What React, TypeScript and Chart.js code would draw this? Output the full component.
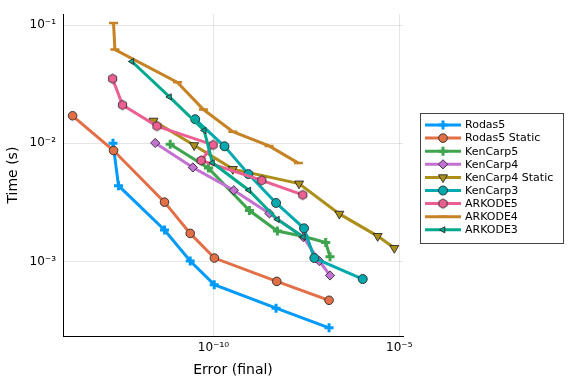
import React, { useEffect, useRef } from "react";
import { Chart, registerables } from "chart.js";
import { drawPoint } from "chart.js/helpers";

Chart.register(...registerables);

const seriesNames = [
  "Rodas5",
  "Rodas5 Static",
  "KenCarp5",
  "KenCarp4",
  "KenCarp4 Static",
  "KenCarp3",
  "ARKODE5",
  "ARKODE4",
  "ARKODE3",
];

const rodas5Error = [1.98e-13, 2.79e-13, 4.82e-12, 2.37e-11, 1.05e-10, 4.84e-9, 1.29e-7];
const rodas5Time = [0.01, 0.00438, 0.00185, 0.00101, 0.000637, 0.000403, 0.000275];

const rodas5StaticError = [1.62e-14, 2.05e-13, 4.82e-12, 2.37e-11, 1.06e-10, 5.06e-9, 1.29e-7];
const rodas5StaticTime = [0.0171, 0.00869, 0.00318, 0.00173, 0.00107, 0.000679, 0.00047];

const kenCarp5Error = [6.85e-12, 7.35e-11, 9.29e-10, 5.25e-9, 2.74e-8, 1.05e-7, 1.37e-7];
const kenCarp5Time = [0.00982, 0.00617, 0.0027, 0.00181, 0.00163, 0.00145, 0.0011];

const kenCarp4Error = [2.71e-12, 2.79e-11, 3.53e-10, 3.2e-9, 2.62e-8, 7.06e-8, 1.37e-7];
const kenCarp4Time = [0.01007, 0.00625, 0.00401, 0.00255, 0.00161, 0.00101, 0.000762];

const kenCarp4StaticError = [2.44e-12, 3.03e-11, 3.33e-10, 2.01e-8, 2.44e-7, 2.62e-6, 7.35e-6];
const kenCarp4StaticTime = [0.0155, 0.00962, 0.00605, 0.00456, 0.00253, 0.00164, 0.0013];

const kenCarp3Error = [3.22e-11, 1.98e-10, 8.73e-10, 4.84e-9, 2.74e-8, 5.19e-8, 1.04e-6];
const kenCarp3Time = [0.016, 0.00944, 0.00549, 0.00313, 0.00191, 0.00107, 0.000711];

const arkode5Error = [1.93e-13, 3.58e-13, 3.01e-12, 9.82e-11, 4.67e-11, 2.0e-9, 2.53e-8];
const arkode5Time = [0.0352, 0.0211, 0.014, 0.0097, 0.00716, 0.00486, 0.00366];

const arkode4Error = [2.05e-13, 2.23e-13, 1.08e-11, 5.38e-11, 3.33e-10, 3.14e-9, 1.93e-8];
const arkode4Time = [0.104, 0.0621, 0.0328, 0.0193, 0.01254, 0.00951, 0.0068];

const arkode3Error = [6.4e-13, 6.56e-12, 5.62e-11, 9.4e-11, 8.95e-10, 5.25e-9, 2.62e-8];
const arkode3Time = [0.0492, 0.0247, 0.01285, 0.00685, 0.00401, 0.00227, 0.00161];

const xTickValues = [1e-10, 1e-5];
const yTickValues = [1e-3, 1e-2, 1e-1];

const seriesErrors = [
  rodas5Error,
  rodas5StaticError,
  kenCarp5Error,
  kenCarp4Error,
  kenCarp4StaticError,
  kenCarp3Error,
  arkode5Error,
  arkode4Error,
  arkode3Error,
];
const seriesTimes = [
  rodas5Time,
  rodas5StaticTime,
  kenCarp5Time,
  kenCarp4Time,
  kenCarp4StaticTime,
  kenCarp3Time,
  arkode5Time,
  arkode4Time,
  arkode3Time,
];

const seriesColors = [
  "#009AFA",
  "#E36F47",
  "#3EA44E",
  "#C371D2",
  "#AC8E18",
  "#00A9AD",
  "#ED5E93",
  "#C68225",
  "#00A98D",
];

const FONT = "'DejaVu Sans', sans-serif";
const MARKER_EDGE = "#2a2a2a";

function makeHexagon(color: string, r: number): HTMLCanvasElement {
  const c = document.createElement("canvas");
  const s = 13;
  c.width = s;
  c.height = s;
  const ctx = c.getContext("2d")!;
  ctx.beginPath();
  for (let k = 0; k < 6; k++) {
    const a = Math.PI / 2 + (k * Math.PI) / 3;
    const px = s / 2 + r * Math.cos(a);
    const py = s / 2 + r * Math.sin(a);
    if (k === 0) ctx.moveTo(px, py);
    else ctx.lineTo(px, py);
  }
  ctx.closePath();
  ctx.fillStyle = color;
  ctx.fill();
  ctx.strokeStyle = MARKER_EDGE;
  ctx.lineWidth = 0.9;
  ctx.stroke();
  return c;
}

const SUP: Record<string, string> = {
  "-": "\u207B",
  "0": "\u2070",
  "1": "\u00B9",
  "2": "\u00B2",
  "3": "\u00B3",
  "4": "\u2074",
  "5": "\u2075",
  "6": "\u2076",
  "7": "\u2077",
  "8": "\u2078",
  "9": "\u2079",
};

function powLabel(v: number): string {
  const e = Math.round(Math.log10(v));
  return "10" + String(e).split("").map((ch) => SUP[ch] || ch).join("");
}

function markerFor(i: number, color: string) {
  switch (i) {
    case 0:
    case 2:
      return { pointStyle: "cross", pointRadius: 4.5, pointRotation: 0, pointBackgroundColor: color, pointBorderColor: color, pointBorderWidth: 3 };
    case 1:
      return { pointStyle: "circle", pointRadius: 4.3, pointRotation: 0, pointBackgroundColor: color, pointBorderColor: MARKER_EDGE, pointBorderWidth: 0.9 };
    case 3:
      return { pointStyle: "rectRot", pointRadius: 4.6, pointRotation: 0, pointBackgroundColor: color, pointBorderColor: MARKER_EDGE, pointBorderWidth: 0.9 };
    case 4:
      return { pointStyle: "triangle", pointRadius: 5.2, pointRotation: 180, pointBackgroundColor: color, pointBorderColor: MARKER_EDGE, pointBorderWidth: 0.9 };
    case 5:
      return { pointStyle: "circle", pointRadius: 4.5, pointRotation: 0, pointBackgroundColor: color, pointBorderColor: MARKER_EDGE, pointBorderWidth: 0.9 };
    case 6:
      return { pointStyle: makeHexagon(color, 4.7), pointRadius: 5, pointRotation: 0, pointBackgroundColor: color, pointBorderColor: MARKER_EDGE, pointBorderWidth: 0.9 };
    case 7:
      return { pointStyle: "line", pointRadius: 4.5, pointRotation: 0, pointBackgroundColor: color, pointBorderColor: color, pointBorderWidth: 2.5 };
    default:
      return { pointStyle: "triangle", pointRadius: 3.6, pointRotation: 270, pointBackgroundColor: color, pointBorderColor: MARKER_EDGE, pointBorderWidth: 0.9 };
  }
}

const legendPlugin = {
  id: "customLegend",
  afterDraw(chart: any) {
    const ctx: CanvasRenderingContext2D = chart.ctx;
    ctx.save();
    const bx = 420.5;
    const by = 113.5;
    const bw = 143;
    const bh = 130;
    ctx.fillStyle = "#ffffff";
    ctx.fillRect(bx, by, bw, bh);
    ctx.strokeStyle = "#444444";
    ctx.lineWidth = 1;
    ctx.strokeRect(bx, by, bw, bh);
    chart.data.datasets.forEach((ds: any, i: number) => {
      const y = 125 + i * 13.1;
      ctx.strokeStyle = ds.borderColor;
      ctx.lineWidth = 3;
      ctx.beginPath();
      ctx.moveTo(425, y);
      ctx.lineTo(461, y);
      ctx.stroke();
      ctx.fillStyle = ds.pointBackgroundColor;
      ctx.strokeStyle = ds.pointBorderColor;
      ctx.lineWidth = ds.pointBorderWidth;
      drawPoint(
        ctx,
        {
          pointStyle: ds.pointStyle,
          rotation: ds.pointRotation,
          radius: ds.pointRadius,
          borderWidth: ds.pointBorderWidth,
        } as any,
        443,
        y
      );
      ctx.fillStyle = "#000000";
      ctx.font = `11px ${FONT}`;
      ctx.textAlign = "left";
      ctx.textBaseline = "middle";
      ctx.fillText(ds.label, 465, y + 0.5);
    });
    ctx.restore();
  },
};

export default function App() {
  const canvasRef = useRef<HTMLCanvasElement | null>(null);

  useEffect(() => {
    const canvas = canvasRef.current;
    if (!canvas) return;
    const datasets = seriesNames.map((name, i) => {
      const color = seriesColors[i];
      return {
        label: name,
        data: seriesErrors[i].map((x, k) => ({ x, y: seriesTimes[i][k] })),
        borderColor: color,
        backgroundColor: color,
        borderWidth: 3,
        fill: false,
        tension: 0,
        order: -i,
        ...markerFor(i, color),
      };
    });

    const chart = new Chart(canvas, {
      type: "line",
      data: { datasets: datasets as any },
      plugins: [legendPlugin],
      options: {
        animation: false,
        responsive: false,
        maintainAspectRatio: false,
        layout: { padding: { left: 0, right: 173, top: 12, bottom: 0 } },
        plugins: {
          legend: { display: false },
          tooltip: { enabled: false },
        },
        scales: {
          x: {
            type: "logarithmic",
            min: 8.95e-15,
            max: 1.26e-5,
            afterFit: (scale: any) => {
              scale.height = 48;
            },
            afterBuildTicks: (scale: any) => {
              scale.ticks = xTickValues.map((v) => ({ value: v }));
            },
            ticks: {
              autoSkip: false,
              maxRotation: 0,
              padding: 5,
              color: "#000000",
              font: { family: FONT, size: 12 },
              callback: (v: any) => powLabel(Number(v)),
            },
            grid: {
              color: "rgba(0,0,0,0.1)",
              lineWidth: 1,
              drawTicks: false,
            },
            border: { display: true, color: "#000000", width: 1 },
            title: {
              display: true,
              text: "Error (final)",
              color: "#000000",
              font: { family: FONT, size: 14 },
              padding: { top: 0, bottom: 5 },
            },
          },
          y: {
            type: "logarithmic",
            min: 2.344e-4,
            max: 0.1237,
            afterFit: (scale: any) => {
              scale.width = 63;
            },
            afterBuildTicks: (scale: any) => {
              scale.ticks = yTickValues.map((v) => ({ value: v }));
            },
            ticks: {
              autoSkip: false,
              padding: 7,
              color: "#000000",
              font: { family: FONT, size: 12 },
              callback: (v: any) => powLabel(Number(v)),
            },
            grid: {
              color: "rgba(0,0,0,0.1)",
              lineWidth: 1,
              drawTicks: false,
            },
            border: { display: true, color: "#000000", width: 1 },
            title: {
              display: true,
              text: "Time (s)",
              color: "#000000",
              font: { family: FONT, size: 14 },
              padding: { top: 4.5, bottom: 0 },
            },
          },
        },
      } as any,
    });
    return () => chart.destroy();
  }, []);

  return (
    <div style={{ position: "fixed", left: 0, top: 0, width: 576, height: 384, background: "#ffffff" }}>
      <canvas ref={canvasRef} width={576} height={384} style={{ width: 576, height: 384, display: "block" }} />
    </div>
  );
}
